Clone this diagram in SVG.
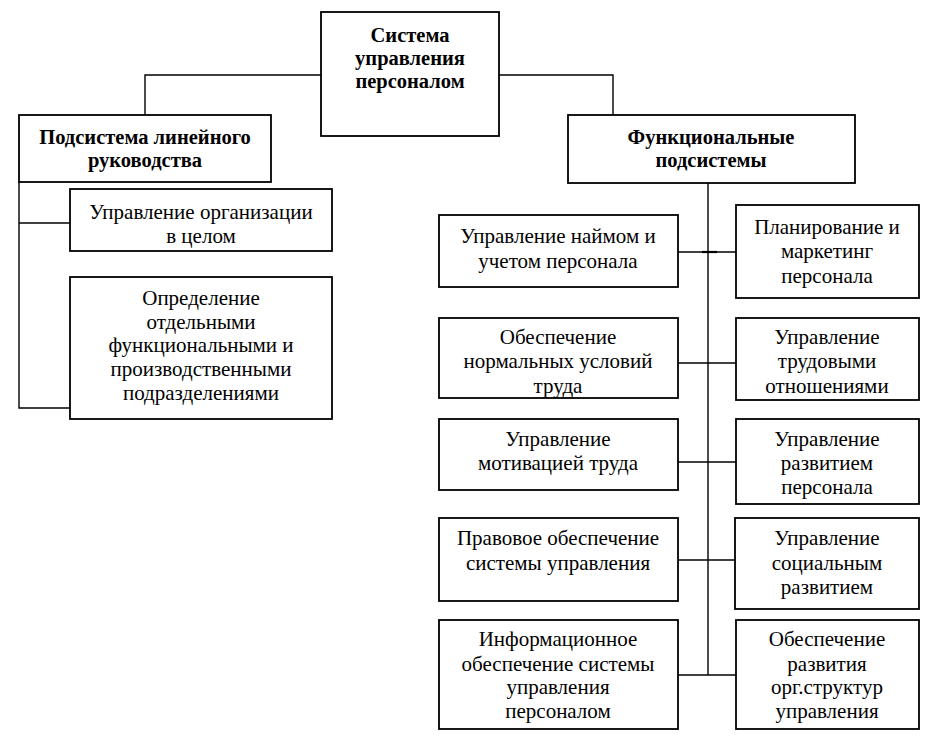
<svg xmlns="http://www.w3.org/2000/svg" width="934" height="747" viewBox="0 0 934 747">
<style>
.box{fill:#fff;stroke:#000;stroke-width:1.8}
.t{font-family:"Liberation Serif","DejaVu Serif",serif;font-size:21px;text-anchor:middle;fill:#000}
.b{font-weight:bold;font-size:20.5px}
.c{fill:none;stroke:#000;stroke-width:1.4}
</style>
<rect width="934" height="747" fill="#fff"/>
<g id="connectors">
<polyline class="c" points="321,75 145,75 145,115"/>
<polyline class="c" points="499,75 613,75 613,115"/>
<polyline class="c" points="19,182 19,408 70,408"/>
<line class="c" x1="19" y1="223" x2="70" y2="223"/>
<line class="c" x1="708" y1="183" x2="708" y2="675"/>
<line class="c" x1="678" y1="252" x2="736" y2="252"/>
<line class="c" x1="702" y1="252" x2="717" y2="252" style="stroke-width:2.2"/>
<line class="c" x1="678" y1="363" x2="736" y2="363"/>
<line class="c" x1="678" y1="462" x2="736" y2="462"/>
<line class="c" x1="678" y1="560" x2="735" y2="560"/>
<line class="c" x1="678" y1="675" x2="736" y2="675"/>
</g>
<g id="root"><rect class="box" x="321" y="12" width="178" height="124"/>
<text class="t b" x="410" y="42">Система</text><text class="t b" x="410" y="65">управления</text><text class="t b" x="410" y="88">персоналом</text></g>
<g id="linear"><rect class="box" x="19" y="115" width="252" height="67"/>
<text class="t b" x="145" y="144">Подсистема линейного</text><text class="t b" x="145" y="167">руководства</text></g>
<g id="functional"><rect class="box" x="568" y="115" width="287" height="68"/>
<text class="t b" x="711" y="144">Функциональные</text><text class="t b" x="711" y="167">подсистемы</text></g>
<g id="org"><rect class="box" x="70" y="189" width="262" height="62"/>
<text class="t" x="201" y="219">Управление организации</text><text class="t" x="201" y="243">в целом</text></g>
<g id="units"><rect class="box" x="70" y="277" width="262" height="142"/>
<text class="t" x="201" y="305">Определение</text><text class="t" x="201" y="329">отдельными</text><text class="t" x="201" y="352">функциональными и</text><text class="t" x="201" y="376">производственными</text><text class="t" x="201" y="400">подразделениями</text></g>
<g id="hire"><rect class="box" x="439" y="215" width="239" height="72"/>
<text class="t" x="558" y="243">Управление наймом и</text><text class="t" x="558" y="268">учетом персонала</text></g>
<g id="plan"><rect class="box" x="736" y="205" width="183" height="93"/>
<text class="t" x="827" y="234">Планирование и</text><text class="t" x="827" y="258">маркетинг</text><text class="t" x="827" y="283">персонала</text></g>
<g id="cond"><rect class="box" x="439" y="318" width="239" height="80"/>
<text class="t" x="558" y="344">Обеспечение</text><text class="t" x="558" y="368">нормальных условий</text><text class="t" x="558" y="393">труда</text></g>
<g id="labor"><rect class="box" x="736" y="318" width="183" height="82"/>
<text class="t" x="827" y="344">Управление</text><text class="t" x="827" y="368">трудовыми</text><text class="t" x="827" y="393">отношениями</text></g>
<g id="motiv"><rect class="box" x="439" y="419" width="239" height="71"/>
<text class="t" x="558" y="446">Управление</text><text class="t" x="558" y="470">мотивацией труда</text></g>
<g id="devel"><rect class="box" x="736" y="419" width="183" height="85"/>
<text class="t" x="827" y="446">Управление</text><text class="t" x="827" y="470">развитием</text><text class="t" x="827" y="494">персонала</text></g>
<g id="legal"><rect class="box" x="439" y="518" width="239" height="83"/>
<text class="t" x="558" y="545">Правовое обеспечение</text><text class="t" x="558" y="570">системы управления</text></g>
<g id="social"><rect class="box" x="735" y="518" width="184" height="91"/>
<text class="t" x="827" y="545">Управление</text><text class="t" x="827" y="570">социальным</text><text class="t" x="827" y="594">развитием</text></g>
<g id="info"><rect class="box" x="439" y="620" width="239" height="109"/>
<text class="t" x="558" y="646">Информационное</text><text class="t" x="558" y="671">обеспечение системы</text><text class="t" x="558" y="694">управления</text><text class="t" x="558" y="718">персоналом</text></g>
<g id="struct"><rect class="box" x="736" y="620" width="183" height="109"/>
<text class="t" x="827" y="646">Обеспечение</text><text class="t" x="827" y="671">развития</text><text class="t" x="827" y="694">орг.структур</text><text class="t" x="827" y="718">управления</text></g>
</svg>
